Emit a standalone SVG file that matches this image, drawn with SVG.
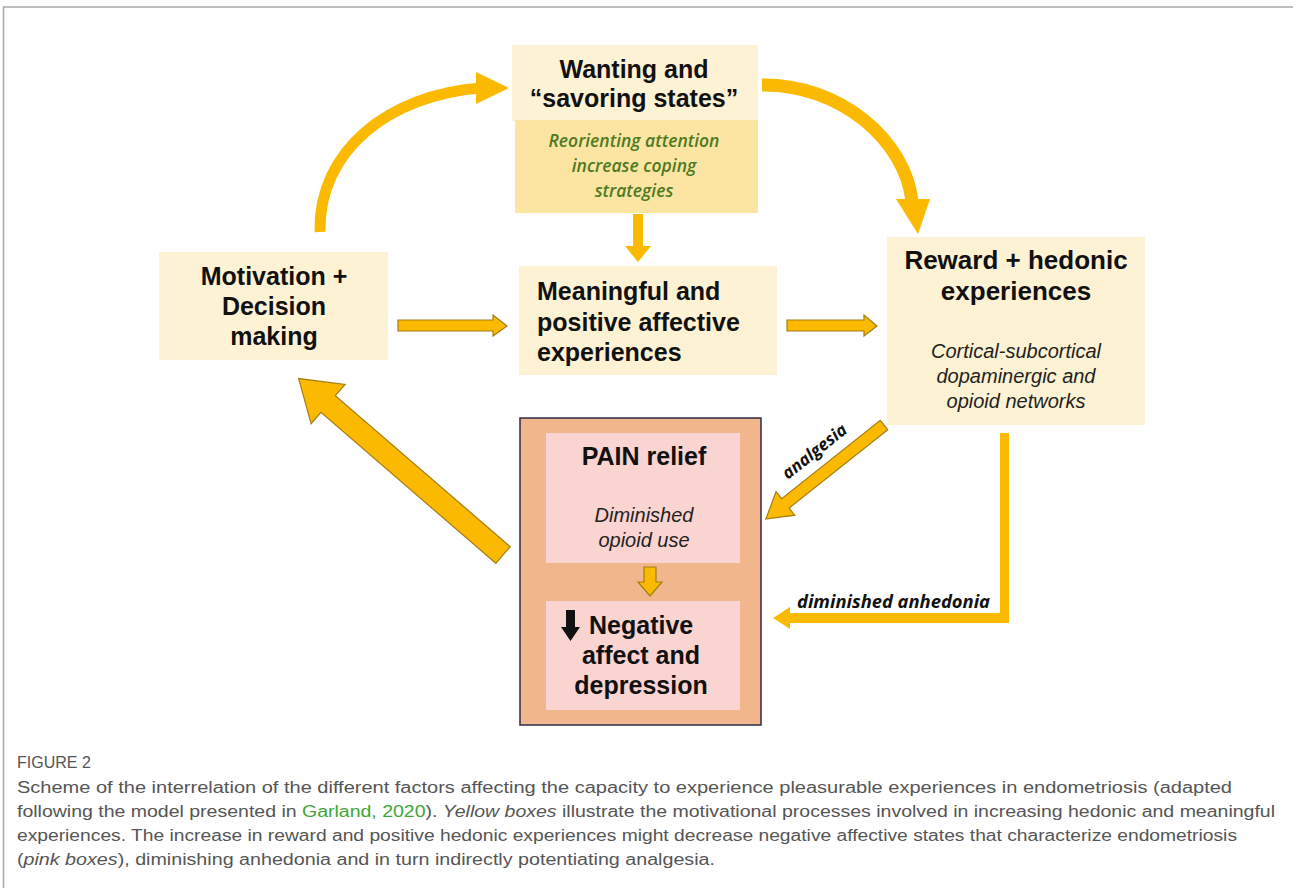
<svg xmlns="http://www.w3.org/2000/svg" width="1293" height="888" viewBox="0 0 1293 888">
<defs>
<style>
.b{font-family:"Liberation Sans",Arial,sans-serif;font-weight:bold;fill:#111;text-anchor:middle}
.s{text-anchor:start}
.i{font-family:"Liberation Sans",Arial,sans-serif;font-style:italic;fill:#222;text-anchor:middle}
.g{font-family:"Open Sans","DejaVu Sans",sans-serif;font-style:italic;font-weight:600;fill:#4d7a23;text-anchor:middle;font-size:17.5px}
.lbl{font-family:"Open Sans","DejaVu Sans",sans-serif;font-style:italic;font-weight:bold;fill:#111;font-size:17px}
.cap{font-family:"Liberation Sans",Arial,sans-serif;fill:#555;font-size:16px}
.box{fill:#FEF2D4}
.arr{fill:#FBB900}
.arro{fill:#FBB900;stroke:#A47E14;stroke-width:1.2}
.cur{fill:none;stroke:#FBB900}
</style>
</defs>
<rect width="1293" height="888" fill="#fff"/>
<path d="M3.5,888 V7 H1293" fill="none" stroke="#a8a8a8" stroke-width="1.5"/>

<g id="connectors">
  <path class="cur" stroke-width="11" d="M320,232 C318,150 390,95 480,88"/>
  <polygon class="arr" points="476,72 509,88 476,104"/>
  <path class="cur" stroke-width="13" d="M762,85 C840,84 905,140 912,201"/>
  <polygon class="arr" points="896,199 930,199 918,234"/>
  <polygon class="arr" points="633,214 643,214 643,246 651,246 638,262 625,246 633,246"/>
  <polygon class="arro" points="398,320 493,320 493,315 507,326 493,336 493,331 398,331"/>
  <polygon class="arro" points="787,320 864,320 864,315 877,326 864,336 864,331 787,331"/>
  <g transform="translate(503,555) rotate(220.8)">
    <polygon class="arro" points="0,-11 231,-11 231,-26 270,0 231,26 231,11 0,11"/>
  </g>
  <g transform="translate(884,425) rotate(141.5)">
    <polygon class="arro" points="0,-6 126,-6 126,-15 151,0 126,15 126,6 0,6"/>
  </g>
  <text class="lbl" transform="translate(818,456) rotate(-38.5)" text-anchor="middle" font-size="18">analgesia</text>
  <polygon class="arr" points="1000,433 1009,433 1009,623 790,623 790,629 773,618 790,607 790,613 1000,613"/>
  <text class="lbl" x="797" y="608" textLength="193" lengthAdjust="spacingAndGlyphs">diminished  anhedonia</text>
</g>

<g id="wanting">
  <rect x="512" y="45" width="246" height="76" class="box"/>
  <rect x="515" y="120" width="243" height="93" fill="#FCE5A2"/>
  <text class="b" x="634" y="78" font-size="25">Wanting and</text>
  <text class="b" x="634" y="107" font-size="25">“savoring states”</text>
  <text class="g" x="634" y="147">Reorienting attention</text>
  <text class="g" x="634" y="172">increase coping</text>
  <text class="g" x="634" y="197">strategies</text>
</g>

<g id="motivation">
  <rect x="159" y="252" width="229" height="108" class="box"/>
  <text class="b" x="274" y="285" font-size="25">Motivation +</text>
  <text class="b" x="274" y="315" font-size="25">Decision</text>
  <text class="b" x="274" y="345" font-size="25">making</text>
</g>

<g id="meaningful">
  <rect x="519" y="266" width="258" height="109" class="box"/>
  <text class="b s" x="537" y="300" font-size="25">Meaningful and</text>
  <text class="b s" x="537" y="331" font-size="25">positive affective</text>
  <text class="b s" x="537" y="361" font-size="25">experiences</text>
</g>

<g id="reward">
  <rect x="887" y="237" width="258" height="188" class="box"/>
  <text class="b" x="1016" y="269" font-size="26">Reward + hedonic</text>
  <text class="b" x="1016" y="300" font-size="26">experiences</text>
  <text class="i" x="1016" y="358" font-size="20">Cortical-subcortical</text>
  <text class="i" x="1016" y="383" font-size="20">dopaminergic  and</text>
  <text class="i" x="1016" y="408" font-size="20">opioid  networks</text>
</g>

<g id="pink-group">
  <rect x="520" y="418" width="241" height="307" fill="#F2B68C" stroke="#2b2b48" stroke-width="1.5"/>
  <g id="pain">
    <rect x="546" y="433" width="194" height="130" fill="#F9D4D0"/>
    <text class="b" x="644" y="465" font-size="25">PAIN relief</text>
    <text class="i" x="644" y="522" font-size="20">Diminished</text>
    <text class="i" x="644" y="547" font-size="20">opioid  use</text>
  </g>
  <polygon class="arro" points="644,567 656,567 656,582 662,582 650,596 638,582 644,582"/>
  <g id="negative">
    <rect x="546" y="601" width="194" height="109" fill="#F9D4D0"/>
    <polygon points="566,610 575,610 575,627 580,627 570.5,641 561,627 566,627" fill="#111"/>
    <text class="b s" x="589" y="634" font-size="25">Negative</text>
    <text class="b" x="641" y="664" font-size="25">affect and</text>
    <text class="b" x="641" y="694" font-size="25">depression</text>
  </g>
</g>

<g id="caption">
  <text class="cap" x="17" y="768" font-size="11.5">FIGURE 2</text>
  <text class="cap" x="17" y="793" textLength="1215" lengthAdjust="spacingAndGlyphs">Scheme of the interrelation of the different factors affecting the capacity to experience pleasurable experiences in endometriosis (adapted</text>
  <text class="cap" x="17" y="817" textLength="1258" lengthAdjust="spacingAndGlyphs">following the model presented in <tspan fill="#3da637">Garland, 2020</tspan>). <tspan font-style="italic">Yellow boxes</tspan> illustrate the motivational processes involved in increasing hedonic and meaningful</text>
  <text class="cap" x="17" y="841" textLength="1220" lengthAdjust="spacingAndGlyphs">experiences. The increase in reward and positive hedonic experiences might decrease negative affective states that characterize endometriosis</text>
  <text class="cap" x="17" y="865" textLength="698" lengthAdjust="spacingAndGlyphs">(<tspan font-style="italic">pink boxes</tspan>), diminishing anhedonia and in turn indirectly potentiating analgesia.</text>
</g>
</svg>
